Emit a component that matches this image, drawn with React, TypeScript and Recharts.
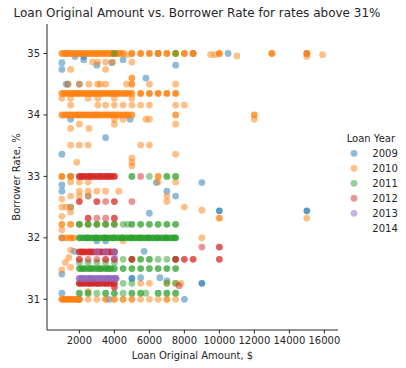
import { ScatterChart, Scatter, XAxis, YAxis } from 'recharts'

// rows: [borrower rate %, loan amounts $, stacked loans at each point]
type Row = [number, number[], number]

const years = ['2009', '2010', '2011', '2012', '2013', '2014']
const colors = ['#1f77b4', '#ff7f0e', '#2ca02c', '#d62728', '#9467bd', '#8c564b']
const xTicks = [2000, 4000, 6000, 8000, 10000, 12000, 14000, 16000]
const yTicks = [31, 32, 33, 34, 35]

const loans2009: Row[] = [
  [35.0, [1250, 6500, 8500, 10500, 15000], 1],
  [34.95, [1750, 2250], 1],
  [34.9, [2250, 4500], 1],
  [34.85, [1000, 3850], 1],
  [34.81, [3000, 7500], 1],
  [34.74, [1000], 1],
  [34.6, [5800], 1],
  [34.5, [1250, 1350, 2000], 1],
  [33.93, [1500, 4900], 1],
  [33.63, [3500], 1],
  [33.36, [1000], 1],
  [33.0, [1500], 1],
  [32.9, [6400, 9000], 1],
  [32.86, [1000], 1],
  [32.76, [1000, 7000], 1],
  [32.68, [2500, 7500], 1],
  [32.5, [1500], 1],
  [32.44, [10000, 15000], 2],
  [32.4, [6000], 1],
  [32.0, [1000], 1],
  [31.95, [3000, 3500], 1],
  [31.78, [1700, 5700], 1],
  [31.41, [1000], 1],
  [31.34, [5000], 2],
  [31.35, [5500, 6600], 1],
  [31.3, [7000], 1],
  [31.26, [9000], 2],
  [31.1, [1000], 1],
  [31.0, [2000, 3700, 8000], 1],
]

const loans2010: Row[] = [
  [35.0, [1000, 1150, 1300, 1450, 1600, 1750, 1900, 2000, 2150, 2300, 2450, 2600, 2750, 2900, 3000, 3150, 3300, 3450, 3600, 3750, 3900, 4000, 4150, 4300, 4500], 2],
  [35.0, [5000, 5500, 6000, 6500, 7000, 7500, 8000, 8500, 10000, 13000, 15000], 3],
  [34.98, [4750, 9500, 9750, 15900], 1],
  [34.96, [11000], 1],
  [34.95, [15000], 1],
  [34.86, [2750, 3050, 3500, 3900, 5000], 1],
  [34.74, [1500, 3500], 1],
  [34.6, [5000], 2],
  [34.5, [1350, 2000, 2550, 3050, 3200, 3500, 4700, 6000, 7500], 1],
  [34.5, [5000], 2],
  [34.35, [1000, 1150, 1300, 1450, 1600, 1750, 1900, 2000, 2150, 2300, 2450, 2600, 2750, 2900, 3000, 3150, 3300, 3450, 3600, 3750, 3900, 4000, 4150, 4300, 4500, 4650, 4800, 5000], 2],
  [34.35, [5500, 6000, 6500, 7000, 7500], 3],
  [34.27, [1000, 1500, 2500, 3050, 4000, 5000], 1],
  [34.16, [1500, 3050, 3500, 4000, 4500, 5000, 5500, 6000, 7500, 8000], 1],
  [34.0, [1000, 1150, 1300, 1450, 1600, 1750, 1900, 2000, 2150, 2300, 2450, 2600, 2750, 2900, 3000, 3150, 3300, 3450, 3600, 3750, 3900, 4000, 4150, 4300, 4500, 4650, 4800, 5000], 2],
  [34.0, [7500, 12000], 2],
  [33.93, [4000, 4500, 5800, 6000, 12000], 1],
  [33.85, [2000, 4000, 7500], 1],
  [33.78, [1500, 2550], 1],
  [33.51, [1500, 2000, 2500, 5500, 6000], 1],
  [33.36, [7500], 1],
  [33.3, [5000], 1],
  [33.23, [1850, 5000], 1],
  [33.17, [5000], 1],
  [33.0, [1000, 1500], 3],
  [33.0, [6500], 2],
  [32.91, [1500, 2000, 2500, 6500, 7500], 1],
  [32.76, [2000, 2500, 3000, 3500, 4250], 1],
  [32.68, [1500, 2000, 2500, 7000], 1],
  [32.63, [1000], 1],
  [32.59, [7000], 1],
  [32.5, [1000, 1250, 1500, 8000], 1],
  [32.45, [9000], 1],
  [32.42, [1500], 1],
  [32.35, [1000], 1],
  [32.32, [10000], 2],
  [32.32, [15000], 1],
  [32.22, [1000, 1500], 2],
  [32.22, [2000, 2500, 3000, 3500, 4000], 1],
  [32.13, [1000], 1],
  [32.0, [1000, 1250, 1500, 1650], 2],
  [32.0, [9000], 1],
  [31.95, [4500], 1],
  [31.8, [1500], 1],
  [31.68, [1400], 1],
  [31.6, [1200], 1],
  [31.52, [1500], 1],
  [31.48, [1000], 1],
  [31.26, [5500, 6000, 7000, 7500, 7800], 1],
  [31.13, [2500], 1],
  [31.0, [1000, 1150, 1300, 1450, 1600, 1750, 1900], 3],
  [31.0, [2000, 3500, 4000, 4500, 5000, 7000], 2],
  [31.0, [2500, 3000, 5500, 6000, 6500, 7500], 1],
]

const loans2011: Row[] = [
  [35.0, [4000, 7500], 1],
  [33.0, [5000, 7000, 7500], 2],
  [33.0, [6000], 1],
  [32.22, [2000, 2500, 3000, 3500, 4000, 5000, 5500, 6000, 6500, 7000, 7500], 2],
  [32.22, [4500, 4750], 1],
  [32.0, [2000, 2200, 2400, 2500, 2700, 2900, 3000, 3200, 3400, 3500, 3700, 3900, 4000, 4200, 4400, 4500, 4700, 4900, 5000, 5200, 5400, 5500, 5700, 5900, 6000, 6200, 6400, 6500, 6700, 6900, 7000, 7200, 7400, 7500], 3],
  [31.65, [5000, 5500, 6000, 7500], 2],
  [31.65, [4500, 6500, 7000], 1],
  [31.6, [2000, 2500, 3000, 3500, 4000], 1],
  [31.5, [2000, 2150, 2300, 2500, 2650, 2800, 3000, 3150, 3300, 3500, 3650, 3800, 4000], 2],
  [31.5, [4500, 5000, 5500, 6000, 6500, 7000, 7500], 2],
  [31.26, [2000, 2500, 3000, 3500, 4500, 5000, 7000, 7500], 1],
  [31.1, [2000, 2500, 3500, 4000, 5000, 5500, 6500, 7000, 7500], 2],
  [31.1, [3000, 4500, 5800], 1],
]

const loans2012: Row[] = [
  [33.0, [2000, 2150, 2300, 2500, 2650, 2800, 3000, 3150, 3300, 3500, 3650, 3800, 4000], 3],
  [33.0, [5500], 1],
  [32.59, [2000, 3000, 4000], 2],
  [32.59, [3500, 5000], 1],
  [32.32, [2500, 4000], 2],
  [32.32, [3000, 3500], 1],
  [31.85, [9000], 1],
  [31.85, [10000], 2],
  [31.77, [2000, 2150, 2300, 2500, 2650, 2800, 3000, 3150, 3300, 3500, 3650, 3800, 4000], 3],
  [31.65, [2000, 3500, 4000, 5000, 7500, 8000, 8500, 10000], 2],
  [31.65, [2500, 3000], 1],
  [31.26, [2000, 2150, 2300, 2500, 2650, 2800, 3000, 3150, 3300, 3500, 3650, 3800, 4000], 3],
  [31.2, [4000], 2],
  [31.22, [7700], 1],
]

const loans2013: Row[] = [
  [31.77, [3000, 3500, 4000], 2],
  [31.69, [4000], 1],
  [31.34, [2000, 2150, 2300, 2500, 2650, 2800, 3000, 3150, 3300, 3500, 3650, 3800, 4000, 4100], 3],
]

const loans2014: Row[] = []

const series = [loans2009, loans2010, loans2011, loans2012, loans2013, loans2014]

const toPoints = (rows: Row[]) =>
  rows.flatMap(([rate, amounts, n]) => amounts.map(amount => ({ amount, rate, n })))

const FONT = '"DejaVu Sans", sans-serif'
const INK = '#262626'

function Dot(props: any) {
  const { cx, cy, fill, payload } = props
  if (cx == null || cy == null) return null
  return <circle cx={cx} cy={cy} r={3.4} fill={fill} fillOpacity={1 - Math.pow(0.5, payload.n)} />
}

export default function App() {
  return (
    <div style={{ position: 'absolute', left: 0, top: 0, width: 406, height: 368, background: '#fff' }}>
      <ScatterChart width={406} height={368} margin={{ top: 24, right: 68, bottom: 0, left: 0 }}>
        <XAxis
          type="number"
          dataKey="amount"
          domain={[150, 16780]}
          allowDataOverflow
          ticks={xTicks}
          height={38}
          tickSize={3.5}
          tickMargin={3.7}
          axisLine={{ stroke: INK }}
          tickLine={{ stroke: INK }}
          tick={{ fontSize: 10, fill: INK, fontFamily: FONT }}
        />
        <YAxis
          type="number"
          dataKey="rate"
          domain={[30.5, 35.48]}
          allowDataOverflow
          ticks={yTicks}
          width={47}
          tickSize={3.5}
          tickMargin={3.5}
          axisLine={{ stroke: INK }}
          tickLine={{ stroke: INK }}
          tick={{ fontSize: 10, fill: INK, fontFamily: FONT }}
        />
        {series.map((rows, i) => (
          <Scatter
            key={years[i]}
            name={years[i]}
            data={toPoints(rows)}
            fill={colors[i]}
            shape={Dot}
            isAnimationActive={false}
          />
        ))}
      </ScatterChart>
      <svg width={406} height={368} style={{ position: 'absolute', left: 0, top: 0, pointerEvents: 'none' }}>
        <g fontFamily={FONT} fill={INK}>
          <text x={197} y={17.3} fontSize={12} textAnchor="middle">
            Loan Original Amount vs. Borrower Rate for rates above 31%
          </text>
          <text x={192.5} y={359} fontSize={10} textAnchor="middle">Loan Original Amount, $</text>
          <text x={19.5} y={177} fontSize={10} textAnchor="middle" transform="rotate(-90 19.5 177)">
            Borrower Rate, %
          </text>
          <text x={346.7} y={142} fontSize={10}>Loan Year</text>
          {years.map((y, i) => (
            <g key={y}>
              {series[i].length > 0 && (
                <circle cx={354} cy={153.3 + i * 15} r={3.4} fill={colors[i]} fillOpacity={0.5} />
              )}
              <text x={372.3} y={156.9 + i * 15} fontSize={10}>{y}</text>
            </g>
          ))}
        </g>
      </svg>
    </div>
  )
}
